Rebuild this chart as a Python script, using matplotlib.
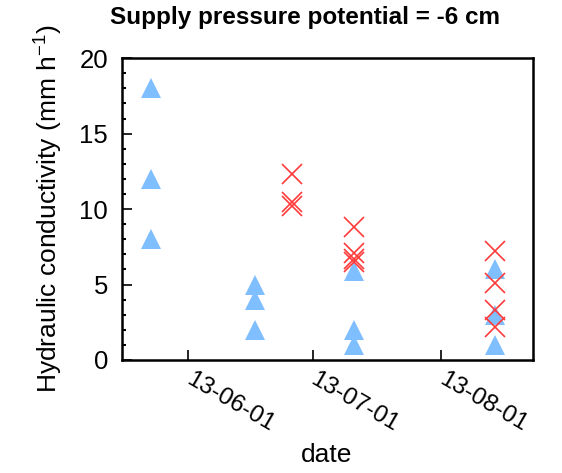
import matplotlib
matplotlib.use("Agg")
import matplotlib.pyplot as plt
import matplotlib.dates as mdates
import matplotlib.transforms as mtransforms
from matplotlib.ticker import MultipleLocator
import datetime as dt

plt.rcParams['font.family'] = ['Liberation Sans', 'DejaVu Sans']
plt.rcParams['mathtext.fontset'] = 'custom'
plt.rcParams['mathtext.rm'] = 'Liberation Sans'
plt.rcParams['mathtext.default'] = 'regular'

# Sampling dates and measured hydraulic conductivity (mm/h)
tri_dates = ["2013-05-23"] * 3 + ["2013-06-17"] * 3 + ["2013-07-11"] * 3 + ["2013-08-14"] * 3
tri_values = [18, 12, 8, 5, 4, 2, 5.9, 2, 1, 6, 3, 1]

cross_dates = ["2013-06-26"] * 3 + ["2013-07-11"] * 4 + ["2013-08-14"] * 4
cross_values = [12.3, 10.5, 10.2, 8.8, 7.1, 6.7, 6.5, 7.2, 5.1, 3.3, 2.2]

tick_dates = ["2013-06-01", "2013-07-01", "2013-08-01"]
x_range = ["2013-05-16", "2013-08-23"]

def to_dt(seq):
    return [dt.datetime.strptime(s, "%Y-%m-%d") for s in seq]

fig = plt.figure(figsize=(5.62, 4.73), dpi=100)
ax = fig.add_axes([0.217, 0.239, 0.731, 0.638])

ax.plot(to_dt(tri_dates), tri_values, linestyle='none', marker='^',
        markersize=15, color='#80bfff', markeredgewidth=0, zorder=2)
ax.plot(to_dt(cross_dates), cross_values, linestyle='none', marker='x',
        markersize=14, color='#ff3a3a', markeredgewidth=1.2, zorder=3)

ax.set_xlim(*to_dt(x_range))
ax.set_ylim(0, 20)
ax.set_xticks(to_dt(tick_dates))
ax.xaxis.set_major_formatter(mdates.DateFormatter("%y-%m-%d"))
ax.yaxis.set_major_locator(MultipleLocator(5))
ax.yaxis.set_minor_locator(MultipleLocator(1))

for sp in ax.spines.values():
    sp.set_linewidth(1.8)

ax.tick_params(axis='y', which='major', direction='in', length=7, width=1.2,
               labelsize=18.5, pad=10)
ax.tick_params(axis='y', which='minor', direction='in', length=3, width=1.5)
ax.tick_params(axis='x', which='major', direction='in', length=7, width=1.2,
               labelsize=17.5, pad=6)
ax.tick_params(axis='x', which='minor', length=0)

shift = mtransforms.ScaledTranslation(5 / 100, 0, fig.dpi_scale_trans)
for lab in ax.get_xticklabels():
    lab.set_rotation(-30)
    lab.set_ha('left')
    lab.set_va('top')
    lab.set_rotation_mode('anchor')
    lab.set_transform(lab.get_transform() + shift)

ax.set_ylabel("Hydraulic conductivity (mm h$^{-1}$)", fontsize=19, labelpad=10)
ax.set_xlabel("date", fontsize=19)
ax.xaxis.label.set_va('center')
ax.xaxis.set_label_coords(0.498, -0.315)
fig.text(0.542, 0.962, "Supply pressure potential = -6 cm", fontsize=17.5,
         fontweight='bold', ha='center', va='center')

fig.savefig("out.png", dpi=100)
